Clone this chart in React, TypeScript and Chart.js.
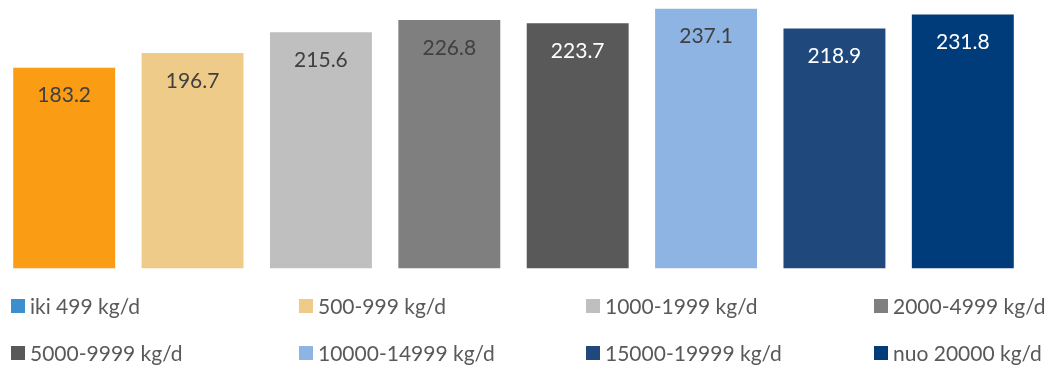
import React, { useEffect, useRef } from "react";
import { Chart, registerables } from "chart.js";

Chart.register(...registerables);

const categories = [
  "iki 499 kg/d",
  "500-999 kg/d",
  "1000-1999 kg/d",
  "2000-4999 kg/d",
  "5000-9999 kg/d",
  "10000-14999 kg/d",
  "15000-19999 kg/d",
  "nuo 20000 kg/d",
];
const values = [183.2, 196.7, 215.6, 226.8, 223.7, 237.1, 218.9, 231.8];
const barColors = [
  "#FA9C14",
  "#EFCB89",
  "#BFBFBF",
  "#7F7F7F",
  "#595959",
  "#8EB4E3",
  "#1F497D",
  "#003B7A",
];
const legendColors = [
  "#3B8FCF",
  "#EFCB89",
  "#BFBFBF",
  "#7F7F7F",
  "#595959",
  "#8EB4E3",
  "#1F497D",
  "#003B7A",
];
const labelColors = [
  "#404040",
  "#404040",
  "#404040",
  "#404040",
  "#FFFFFF",
  "#404040",
  "#FFFFFF",
  "#FFFFFF",
];

const FONT = "Lato, 'Open Sans', sans-serif";

export default function App() {
  const ref = useRef<HTMLCanvasElement | null>(null);

  useEffect(() => {
    if (!ref.current) return;

    const labelPlugin = {
      id: "barLabels",
      afterDatasetsDraw(chart: any) {
        const ctx = chart.ctx;
        const meta = chart.getDatasetMeta(0);
        ctx.save();
        ctx.font = `21px ${FONT}`;
        ctx.textAlign = "center";
        ctx.textBaseline = "middle";
        meta.data.forEach((bar: any, i: number) => {
          ctx.fillStyle = labelColors[i];
          ctx.fillText(values[i].toFixed(1), bar.x, bar.y + 28);
        });
        ctx.restore();
      },
    };

    const legendPlugin = {
      id: "gridLegend",
      afterDraw(chart: any) {
        const ctx = chart.ctx;
        const colX = [30, 318, 605, 893];
        const rowY = [306, 353];
        ctx.save();
        ctx.font = `21px ${FONT}`;
        ctx.textAlign = "left";
        ctx.textBaseline = "middle";
        categories.forEach((c, i) => {
          const col = i % 4;
          const row = Math.floor(i / 4);
          const x = colX[col];
          const y = rowY[row];
          ctx.fillStyle = legendColors[i];
          ctx.fillRect(x - 19, y - 7, 14, 14);
          ctx.fillStyle = "#595959";
          ctx.fillText(c, x, y + 1);
        });
        ctx.restore();
      },
    };

    const chart = new Chart(ref.current, {
      type: "bar",
      data: {
        labels: categories,
        datasets: [
          {
            data: values,
            backgroundColor: barColors,
            borderWidth: 0,
            categoryPercentage: 1,
            barPercentage: 0.794,
          },
        ],
      },
      options: {
        animation: false,
        responsive: false,
        maintainAspectRatio: false,
        layout: { padding: { left: 0, right: 21, top: 0, bottom: 96.5 } },
        plugins: {
          legend: { display: false },
          tooltip: { enabled: false },
        },
        scales: {
          x: { display: false },
          y: { display: false, min: 0, max: 245 },
        },
      },
      plugins: [labelPlugin, legendPlugin],
    });

    return () => chart.destroy();
  }, []);

  return (
    <div
      style={{
        position: "fixed",
        left: 0,
        top: 0,
        width: 1048,
        height: 365,
        background: "#FFFFFF",
      }}
    >
      <canvas ref={ref} width={1048} height={365} style={{ width: 1048, height: 365 }} />
    </div>
  );
}
